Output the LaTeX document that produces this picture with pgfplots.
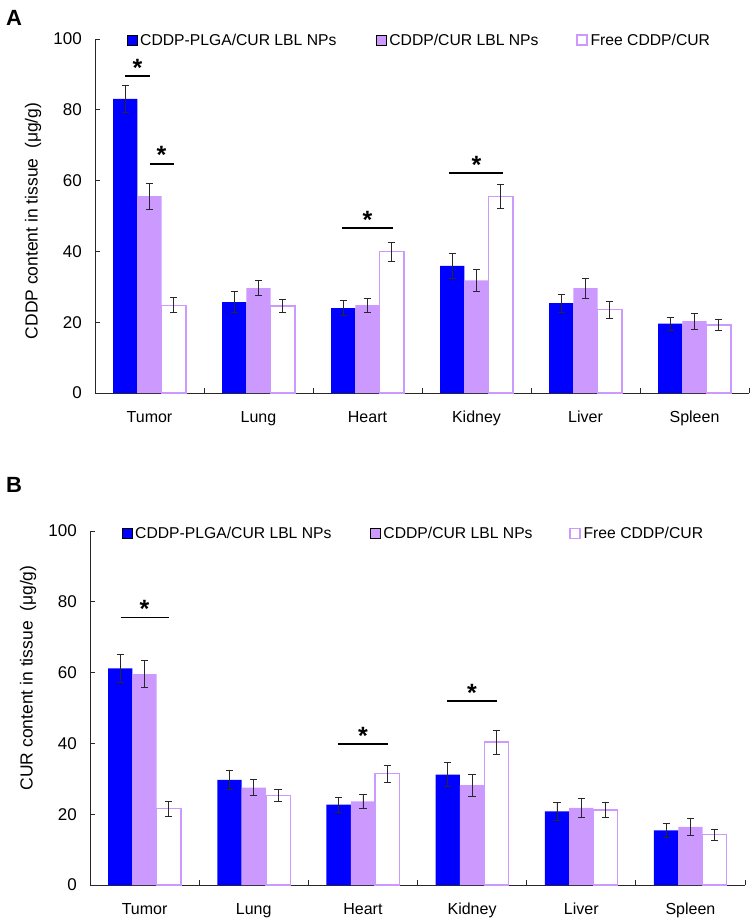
\documentclass[border=0pt]{standalone}
\usepackage{fontspec}
\setmainfont{Liberation Sans}
\usepackage{pgfplots}
\usepackage{pgfplotstable}
\pgfplotsset{compat=1.18}
\definecolor{cblue}{RGB}{0,0,255}
\definecolor{clav}{RGB}{204,153,255}
\definecolor{axgray}{RGB}{40,40,40}

\pgfplotstableread{
x a ae b be c ce
0 83.1 3.8 55.6 3.7 24.8 2.1
1 25.7 2.9 29.6 2.1 24.6 1.9
2 24.0 2.2 24.8 2.0 39.9 2.7
3 35.9 3.5 31.8 3.1 55.5 3.4
4 25.4 2.5 29.6 2.8 23.5 2.3
5 19.6 1.8 20.3 2.2 19.2 1.5
}\dataA

\pgfplotstableread{
x a ae b be c ce
0 61.2 4.0 59.6 3.8 21.6 2.1
1 29.7 2.8 27.5 2.2 25.3 1.8
2 22.7 2.1 23.6 2.0 31.4 2.5
3 31.2 3.4 28.2 3.1 40.4 3.4
4 20.8 2.6 21.8 2.7 21.2 2.1
5 15.4 2.0 16.4 2.3 14.2 1.5
}\dataB

\tikzset{sigstar/.style={anchor=base, inner sep=0pt, font=\fontsize{25bp}{27bp}\selectfont\bfseries}}

\pgfplotsset{
  sq legend/.style={legend image code/.code={
      \draw[##1] (0bp,-5bp) rectangle (10bp,5bp);
      \path (13bp,0bp);}},
  eb/.style={error bars/.cd, y dir=both, y explicit,
      error bar style={line width=0.8bp, axgray},
      error mark options={rotate=90, mark size=3.6bp, line width=0.8bp, axgray}},
  panel/.style={
    scale only axis, height=354bp,
    xmin=-0.5, xmax=5.5, ymin=0, ymax=100,
    ybar=0pt, bar width=24.3bp,
    ytick={0,20,40,60,80,100},
    axis x line*=bottom, axis y line*=left,
    axis line style={line width=0.8bp, axgray},
    tick align=inside, major tick length=5bp,
    tick style={line width=0.8bp, axgray},
    xtick={-0.5,0.5,1.5,2.5,3.5,4.5,5.5}, xticklabels={},
    extra x ticks={0,1,2,3,4,5},
    extra x tick labels={Tumor,Lung,Heart,Kidney,Liver,Spleen},
    extra x tick style={major tick length=0pt, tick style={draw=none}},
    xticklabel style={font=\fontsize{16bp}{18bp}\selectfont, inner sep=0pt, anchor=north, yshift=-18bp},
    yticklabel style={font=\fontsize{17bp}{19bp}\selectfont, inner sep=0pt, anchor=east, xshift=-13bp},
    /pgf/number format/assume math mode=true,
    legend columns=3,
    legend cell align=left,
    legend style={draw=none, fill=none, inner sep=0pt, outer sep=0pt,
      font=\fontsize{15.7bp}{17bp}\selectfont,
      nodes={inner sep=0pt}, cells={anchor=west}, anchor=west},
  },
}

\begin{document}
\begin{tikzpicture}
\useasboundingbox (0,0) rectangle (750bp,-919bp);

% Panel labels
\node[anchor=base west, inner sep=0pt, font=\fontsize{22bp}{24bp}\selectfont\bfseries] at (6bp,-25bp) {A};
\node[anchor=base west, inner sep=0pt, font=\fontsize{22bp}{24bp}\selectfont\bfseries] at (6bp,-492bp) {B};

% ---------- Panel A ----------
\begin{axis}[panel, width=654bp, at={(95bp,-393bp)}, anchor=south west,
  ylabel={CDDP content in tissue\hspace{0.55em}(μg/g)},
  ylabel style={font=\fontsize{17.5bp}{19bp}\selectfont, at={(axis description cs:-0.0948,0.486)}, anchor=center},
  legend style={at={(axis description cs:0.0489,0.997)}}]
\addplot[fill=cblue, draw=none, sq legend, eb] table[x=x, y=a, y error=ae]{\dataA};
\addlegendentry{\makebox[236bp][l]{CDDP-PLGA/CUR LBL NPs}}
\addplot[fill=clav, draw=none, sq legend, eb] table[x=x, y=b, y error=be]{\dataA};
\addlegendentry{\makebox[187bp][l]{CDDP/CUR LBL NPs}}
\addplot[fill=white, draw=clav, line width=1.2bp, sq legend, eb] table[x=x, y=c, y error=ce]{\dataA};
\addlegendentry{Free CDDP/CUR}
% significance
\draw[line width=1.6bp] (axis cs:-0.223,89.5) -- (axis cs:0.0,89.5);
\node[sigstar] at (axis cs:-0.11,89.5) {*};
\draw[line width=1.6bp] (axis cs:0.0,64.7) -- (axis cs:0.223,64.7);
\node[sigstar] at (axis cs:0.11,64.7) {*};
\draw[line width=1.6bp] (axis cs:1.766,46.6) -- (axis cs:2.234,46.6);
\node[sigstar] at (axis cs:2.0,46.6) {*};
\draw[line width=1.6bp] (axis cs:2.752,62.1) -- (axis cs:3.243,62.1);
\node[sigstar] at (axis cs:3.0,62.1) {*};
\end{axis}

% ---------- Panel B ----------
\begin{axis}[panel, width=655bp, at={(90bp,-885bp)}, anchor=south west,
  ylabel={CUR content in tissue\hspace{0.55em}(μg/g)},
  ylabel style={font=\fontsize{17.5bp}{19bp}\selectfont, at={(axis description cs:-0.0945,0.585)}, anchor=center},
  legend style={at={(axis description cs:0.0489,0.994)}}]
\addplot[fill=cblue, draw=none, sq legend, eb] table[x=x, y=a, y error=ae]{\dataB};
\addlegendentry{\makebox[235bp][l]{CDDP-PLGA/CUR LBL NPs}}
\addplot[fill=clav, draw=none, sq legend, eb] table[x=x, y=b, y error=be]{\dataB};
\addlegendentry{\makebox[186bp][l]{CDDP/CUR LBL NPs}}
\addplot[fill=white, draw=clav, line width=1.2bp, sq legend, eb] table[x=x, y=c, y error=ce]{\dataB};
\addlegendentry{Free CDDP/CUR}
% significance
\draw[line width=1.6bp] (axis cs:-0.22,75.6) -- (axis cs:0.22,75.6);
\node[sigstar] at (axis cs:0.0,75.6) {*};
\draw[line width=1.6bp] (axis cs:1.77,39.8) -- (axis cs:2.23,39.8);
\node[sigstar] at (axis cs:2.0,39.8) {*};
\draw[line width=1.6bp] (axis cs:2.77,51.9) -- (axis cs:3.23,51.9);
\node[sigstar] at (axis cs:3.0,51.9) {*};
\end{axis}
\end{tikzpicture}
\end{document}
